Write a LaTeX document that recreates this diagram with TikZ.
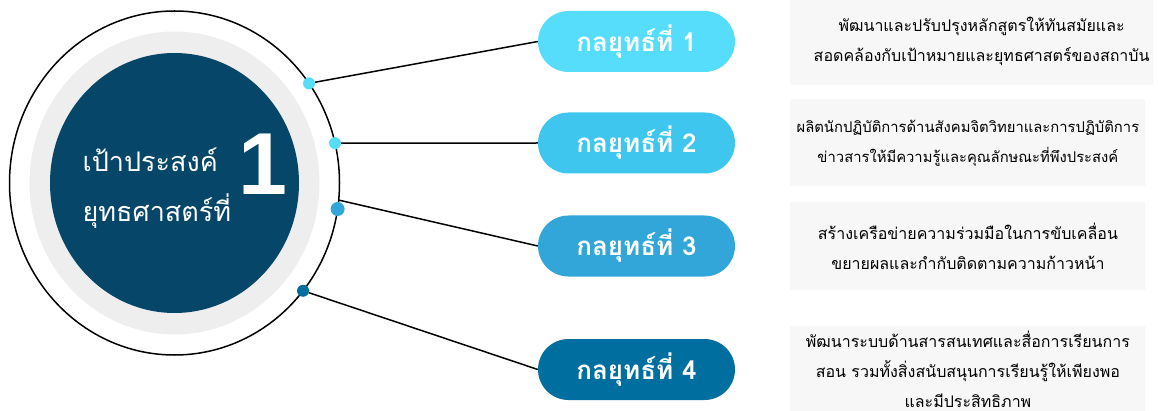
\documentclass[tikz,border=0pt]{standalone}
\usepackage{fontspec}
\usepackage{xcolor}
\usepackage{tikz}
\usetikzlibrary{positioning}
\newfontfamily\thaifont[Script=Thai]{Loma}
\newfontfamily\numfont{Liberation Sans}
\definecolor{goalblue}{RGB}{5,70,105}
\definecolor{ringgray}{RGB}{238,238,238}
\definecolor{boxgray}{RGB}{247,247,247}
\definecolor{stepone}{RGB}{85,221,251}
\definecolor{steptwo}{RGB}{62,198,238}
\definecolor{stepthree}{RGB}{50,166,216}
\definecolor{stepfour}{RGB}{0,110,158}

\begin{document}
\begin{tikzpicture}[x=1pt,y=1pt,
    pill/.style={rounded corners=30.5pt,minimum width=197pt,minimum height=61pt,
      text=white,font=\thaifont\bfseries\fontsize{26}{30}\selectfont},
    infobox/.style={fill=boxgray,minimum width=355pt,minimum height=87pt,align=center,
      font=\thaifont\fontsize{16}{30}\selectfont},
    pindot/.style={circle,inner sep=0pt,minimum size=12pt},
    link/.style={line width=1.5pt}]
        \useasboundingbox (0,0) rectangle (1158,410);
        % big goal circle
        \coordinate (c) at (174.5,227);
        \draw[line width=1.5pt] (c) ellipse [x radius=165,y radius=172];
        \fill[ringgray] (c) ellipse [x radius=145,y radius=151.5];
        \fill[goalblue] (c) ellipse [x radius=124.5,y radius=130];
        \node[anchor=west,align=left,text=white,font=\thaifont\fontsize{27}{50}\selectfont] (goal) at (79,222) {เป้าประสงค์\\ยุทธศาสตร์ที่};
        \node[text=white,font=\numfont\bfseries\fontsize{88}{88}\selectfont] (num) at (262.5,246) {1};
        % strategies
        \node[pill,fill=stepone] (s1) at (636.5,368.5) {กลยุทธ์ที่ 1};
        \node[pill,fill=steptwo] (s2) at (636.5,267) {กลยุทธ์ที่ 2};
        \node[pill,fill=stepthree] (s3) at (636.5,164) {กลยุทธ์ที่ 3};
        \node[pill,fill=stepfour] (s4) at (636.5,40.5) {กลยุทธ์ที่ 4};
        \node[infobox,right=55pt of s1] (b1) {\hspace*{20pt}พัฒนาและปรับปรุงหลักสูตรให้ทันสมัยและ\\\hspace*{20pt}สอดคล้องกับเป้าหมายและยุทธศาสตร์ของสถาบัน};
        \node[infobox,right=55pt of s2,font=\thaifont\fontsize{14.8}{30}\selectfont] (b2) {ผลิตนักปฏิบัติการด้านสังคมจิตวิทยาและการปฏิบัติการ\\ข่าวสารให้มีความรู้และคุณลักษณะที่พึงประสงค์};
        \node[infobox,right=55pt of s3] (b3) {สร้างเครือข่ายความร่วมมือในการขับเคลื่อน\\ขยายผลและกำกับติดตามความก้าวหน้า};
        \node[infobox,right=55pt of s4] (b4) {พัฒนาระบบด้านสารสนเทศและสื่อการเรียนการ\\สอน รวมทั้งสิ่งสนับสนุนการเรียนรู้ให้เพียงพอ\\และมีประสิทธิภาพ};
        % dots on the ring
        \path (c) ++(35.4:165 and 172) node[pindot,fill=stepone] (d1) {};
        \path (c) ++(13.4:165 and 172) node[pindot,fill=stepone] (d2) {};
        \path (c) ++(-8.7:165 and 172) node[pindot,fill=stepthree,minimum size=14pt] (d3) {};
        \path (c) ++(-38.8:165 and 172) node[pindot,fill=stepfour] (d4) {};
        \path (c) ++(-5.7:165 and 172) coordinate (c3);
        \draw[link] (d1) -- (s1.west);
        \draw[link] (d2) -- (s2.west);
        \draw[link] (c3) -- (s3.west);
        \draw[link] (d4) -- (s4.west);
      \end{tikzpicture}
\end{document}
